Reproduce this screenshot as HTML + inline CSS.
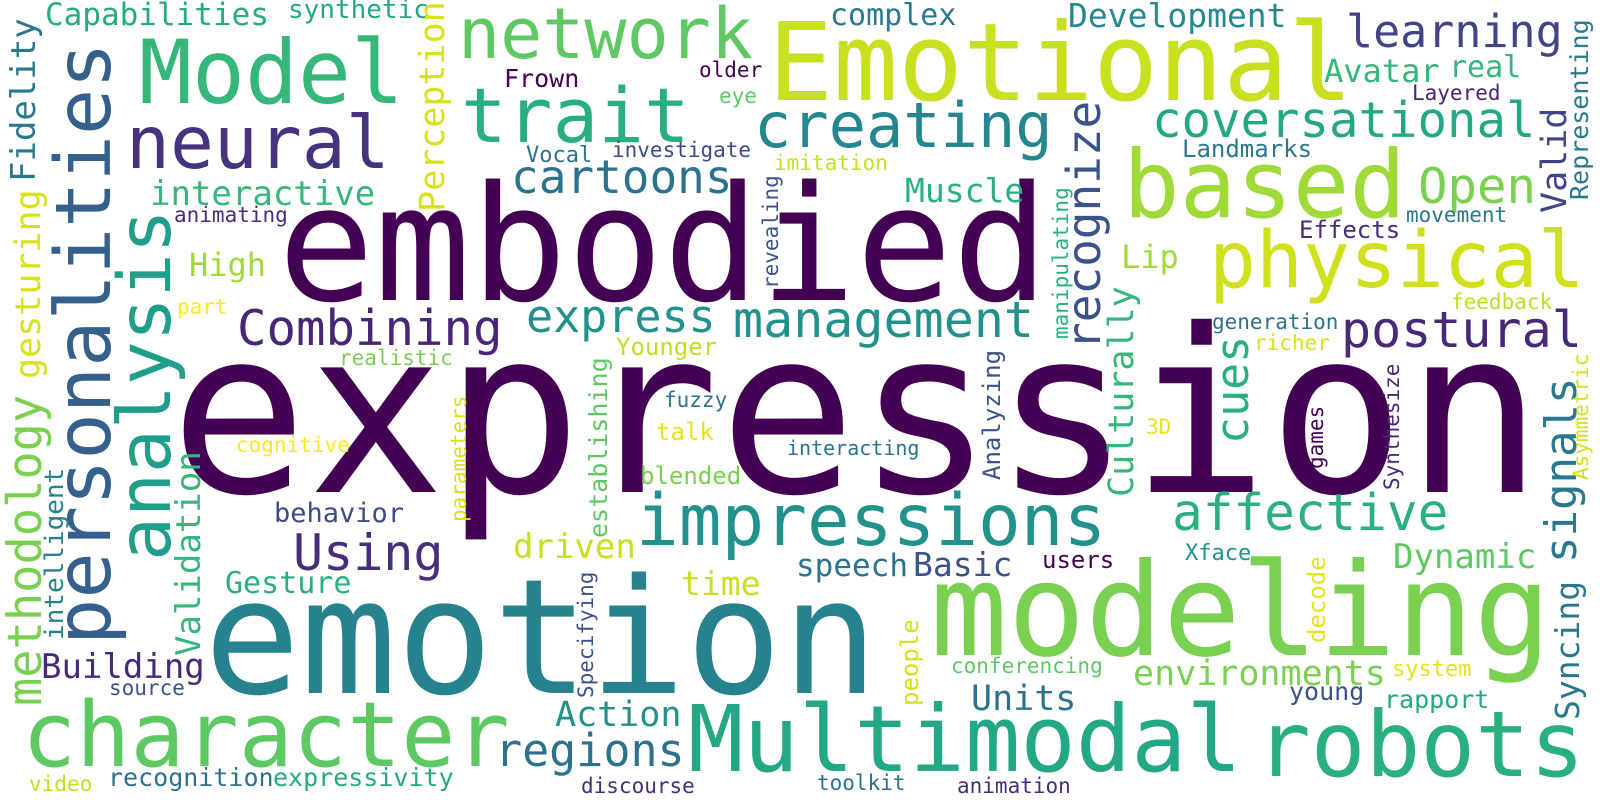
<!DOCTYPE html>
<html><head><meta charset="utf-8"><style>
html,body{margin:0;padding:0;background:#fff;}
svg{display:block;}
text{font-family:"DejaVu Sans Mono","Liberation Mono",monospace;}
</style></head><body>
<svg width="1600" height="800" viewBox="0 0 1600 800" xmlns="http://www.w3.org/2000/svg">
<rect width="1600" height="800" fill="#fff"/>
<text x="170" y="492" font-size="228" fill="#440154">expression</text>
<text x="278" y="300" font-size="160" fill="#440154">embodied</text>
<text x="204" y="693" font-size="160" fill="#26828e">emotion</text>
<text x="930" y="655" font-size="129" fill="#7ad151">modeling</text>
<text x="688" y="771" font-size="92" fill="#22a884">Multimodal</text>
<text x="1256" y="776" font-size="91" fill="#2ab07f">robots</text>
<text x="22" y="766" font-size="90" fill="#5ec962">character</text>
<text x="768" y="100" font-size="108" fill="#c8e020">Emotional</text>
<text x="139" y="103" font-size="88" fill="#35b779">Model</text>
<text x="458" y="58" font-size="70" fill="#5ec962">network</text>
<text x="461" y="142" font-size="76" fill="#29af7f">trait</text>
<text x="126" y="168" font-size="73" fill="#46327e">neural</text>
<text x="1123" y="217" font-size="94" fill="#a0da39">based</text>
<text x="1209" y="287" font-size="78" fill="#d0e11c">physical</text>
<text x="754" y="147" font-size="62" fill="#24868e">creating</text>
<text x="1346" y="47" font-size="45" fill="#414487">learning</text>
<text x="1068" y="27" font-size="33" fill="#23898e">Development</text>
<text x="830" y="25" font-size="30" fill="#2a788e">complex</text>
<text x="45" y="25" font-size="31" fill="#25ab82">Capabilities</text>
<text x="288" y="18" font-size="26" fill="#22a884">synthetic</text>
<text x="504" y="87" font-size="25" fill="#440154">Frown</text>
<text x="699" y="77" font-size="21" fill="#440154">older</text>
<text x="719" y="103" font-size="21" fill="#5ec962">eye</text>
<text x="1324" y="82" font-size="32" fill="#35b779">Avatar</text>
<text x="1449" y="77" font-size="30" fill="#35b779">real</text>
<text x="1412" y="100" font-size="21" fill="#482475">Layered</text>
<text x="1152" y="137" font-size="49" fill="#22a884">coversational</text>
<text x="1182" y="157" font-size="24" fill="#2a788e">Landmarks</text>
<text x="1418" y="203" font-size="49" fill="#7ad151">Open</text>
<text x="1406" y="222" font-size="21" fill="#2a788e">movement</text>
<text x="1299" y="238" font-size="24" fill="#472d7b">Effects</text>
<text x="1451" y="309" font-size="21" fill="#bddf26">feedback</text>
<text x="1212" y="329" font-size="21" fill="#2c728e">generation</text>
<text x="1341" y="347" font-size="50" fill="#482878">postural</text>
<text x="1254" y="350" font-size="21" fill="#d8e219">richer</text>
<text x="733" y="337" font-size="50" fill="#21918c">management</text>
<text x="1146" y="434" font-size="21" fill="#e5e419">3D</text>
<text x="787" y="455" font-size="20" fill="#2c728e">interacting</text>
<text x="636" y="545" font-size="71" fill="#21918c">impressions</text>
<text x="526" y="332" font-size="45" fill="#21918c">express</text>
<text x="616" y="355" font-size="24" fill="#bddf26">Younger</text>
<text x="339" y="365" font-size="21" fill="#7ad151">realistic</text>
<text x="664" y="407" font-size="21" fill="#2c728e">fuzzy</text>
<text x="656" y="440" font-size="24" fill="#e5e419">talk</text>
<text x="640" y="484" font-size="24" fill="#7ad151">blended</text>
<text x="237" y="345" font-size="49" fill="#482677">Combining</text>
<text x="189" y="276" font-size="32" fill="#a0da39">High</text>
<text x="177" y="314" font-size="21" fill="#fde725">part</text>
<text x="236" y="452" font-size="21" fill="#fde725">cognitive</text>
<text x="274" y="522" font-size="27" fill="#3e4989">behavior</text>
<text x="150" y="205" font-size="34" fill="#35b779">interactive</text>
<text x="174" y="222" font-size="21" fill="#472d7b">animating</text>
<text x="293" y="570" font-size="50" fill="#472d7b">Using</text>
<text x="225" y="593" font-size="30" fill="#2ab07f">Gesture</text>
<text x="41" y="678" font-size="34" fill="#482878">Building</text>
<text x="109" y="695" font-size="21" fill="#3b528b">source</text>
<text x="29" y="791" font-size="21" fill="#c2df23">video</text>
<text x="108" y="786" font-size="25" fill="#2c728e">recognition</text>
<text x="273" y="786" font-size="25" fill="#23a983">expressivity</text>
<text x="513" y="558" font-size="34" fill="#c8e020">driven</text>
<text x="681" y="595" font-size="33" fill="#c8e020">time</text>
<text x="555" y="726" font-size="35" fill="#21918c">Action</text>
<text x="495" y="766" font-size="45" fill="#2c728e">regions</text>
<text x="581" y="793" font-size="21" fill="#472d7b">discourse</text>
<text x="796" y="576" font-size="31" fill="#2c728e">speech</text>
<text x="913" y="576" font-size="33" fill="#3b528b">Basic</text>
<text x="1042" y="568" font-size="24" fill="#440154">users</text>
<text x="1185" y="560" font-size="22" fill="#21918c">Xface</text>
<text x="951" y="673" font-size="21" fill="#5ec962">conferencing</text>
<text x="1133" y="685" font-size="35" fill="#7ad151">environments</text>
<text x="971" y="710" font-size="35" fill="#2c728e">Units</text>
<text x="817" y="790" font-size="21" fill="#2c728e">toolkit</text>
<text x="957" y="793" font-size="21" fill="#472d7b">animation</text>
<text x="1393" y="568" font-size="34" fill="#5ec962">Dynamic</text>
<text x="1392" y="676" font-size="22" fill="#e5e419">system</text>
<text x="1289" y="700" font-size="25" fill="#3b528b">young</text>
<text x="1384" y="708" font-size="25" fill="#22a884">rapport</text>
<text x="1172" y="530" font-size="51" fill="#2ab07f">affective</text>
<text x="511" y="193" font-size="46" fill="#2c728e">cartoons</text>
<text x="526" y="162" font-size="22" fill="#2c728e">Vocal</text>
<text x="612" y="157" font-size="21" fill="#3e4989">investigate</text>
<text x="774" y="170" font-size="21" fill="#c8e020">imitation</text>
<text x="905" y="202" font-size="33" fill="#2ab07f">Muscle</text>
<text x="1121" y="268" font-size="32" fill="#a0da39">Lip</text>
<text transform="translate(35,182) rotate(-90)" font-size="34" fill="#2a788e">Fidelity</text>
<text transform="translate(110,645) rotate(-90)" font-size="77" fill="#355f8d">personalities</text>
<text transform="translate(170,561) rotate(-90)" font-size="73" fill="#1f9e89">analysis</text>
<text transform="translate(40,379) rotate(-90)" font-size="35" fill="#d8e219">gesturing</text>
<text transform="translate(41,706) rotate(-90)" font-size="47" fill="#7ad151">methodology</text>
<text transform="translate(63,640) rotate(-90)" font-size="26" fill="#25838e">intelligent</text>
<text transform="translate(200,656) rotate(-90)" font-size="34" fill="#35b779">Validation</text>
<text transform="translate(444,212) rotate(-90)" font-size="35" fill="#d8e219">Perception</text>
<text transform="translate(778,289) rotate(-90)" font-size="21" fill="#3b528b">revealing</text>
<text transform="translate(466,522) rotate(-90)" font-size="21" fill="#d8e219">parameters</text>
<text transform="translate(607,538) rotate(-90)" font-size="25" fill="#5ec962">establishing</text>
<text transform="translate(593,698) rotate(-90)" font-size="21" fill="#3b528b">Specifying</text>
<text transform="translate(918,706) rotate(-90)" font-size="24" fill="#d2e21b">people</text>
<text transform="translate(1000,480) rotate(-90)" font-size="24" fill="#3b528b">Analyzing</text>
<text transform="translate(1068,339) rotate(-90)" font-size="21" fill="#2ab07f">manipulating</text>
<text transform="translate(1100,350) rotate(-90)" font-size="46" fill="#3b528b">recognize</text>
<text transform="translate(1133,497) rotate(-90)" font-size="35" fill="#35b779">Culturally</text>
<text transform="translate(1248,444) rotate(-90)" font-size="45" fill="#2ab07f">cues</text>
<text transform="translate(1323,469) rotate(-90)" font-size="21" fill="#440154">games</text>
<text transform="translate(1399,490) rotate(-90)" font-size="21" fill="#482878">Synthesize</text>
<text transform="translate(1576,563) rotate(-90)" font-size="44" fill="#2a788e">signals</text>
<text transform="translate(1588,480) rotate(-90)" font-size="21" fill="#d2e21b">Asymmetric</text>
<text transform="translate(1566,213) rotate(-90)" font-size="35" fill="#414487">Valid</text>
<text transform="translate(1588,200) rotate(-90)" font-size="25" fill="#2a788e">Representing</text>
<text transform="translate(1325,643) rotate(-90)" font-size="24" fill="#e5e419">decode</text>
<text transform="translate(1579,720) rotate(-90)" font-size="33" fill="#2a788e">Syncing</text>
</svg>
</body></html>
